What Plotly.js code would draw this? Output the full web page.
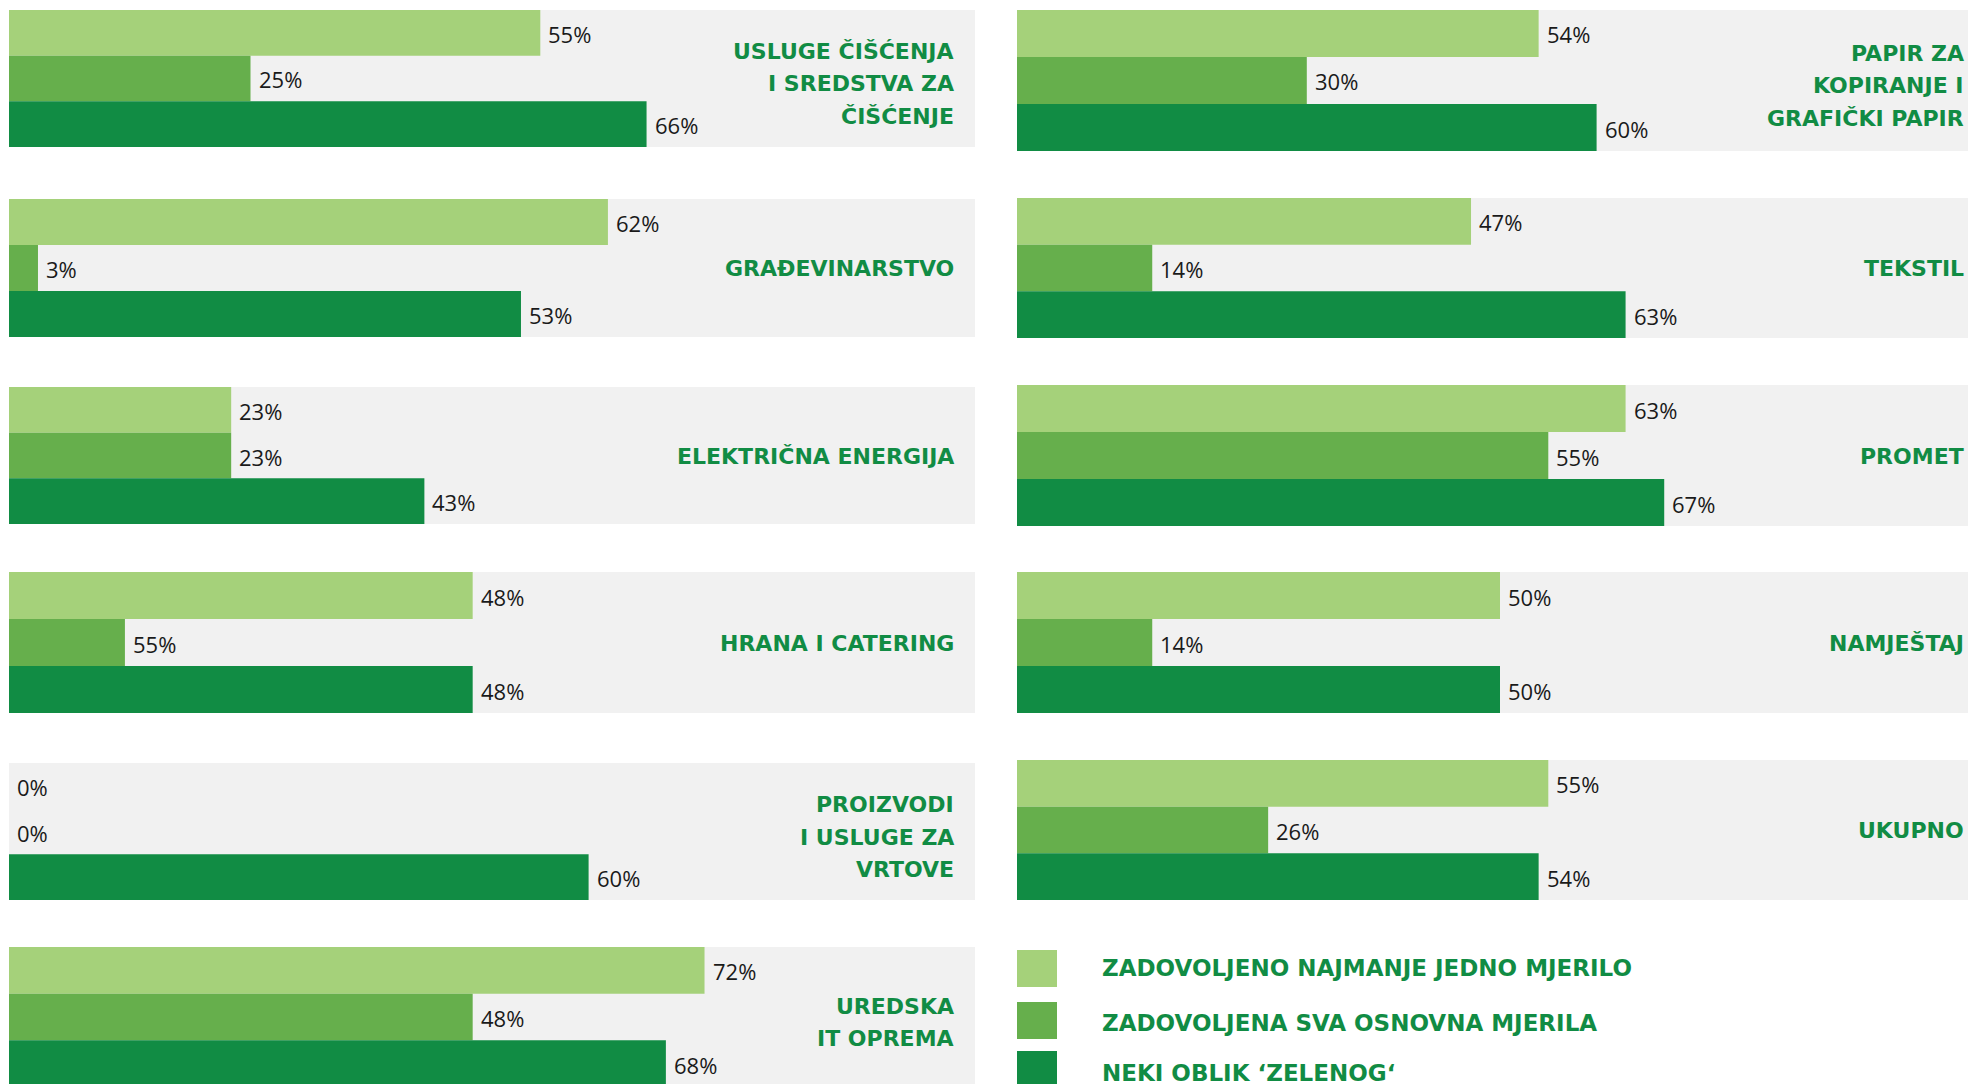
<!DOCTYPE html>
<html>
<head>
<meta charset="utf-8">
<script src="https://cdn.plot.ly/plotly-3.0.1.min.js"></script>
<style>
  html, body { margin: 0; padding: 0; background: #ffffff; }
  #chart { width: 1968px; height: 1084px; }
</style>
</head>
<body>
<div id="chart"></div>
<script>
// ---------------- DATA ----------------
const categories = [
  'USLUGE ČIŠĆENJA<br>I SREDSTVA ZA<br>ČIŠĆENJE',
  'GRAĐEVINARSTVO',
  'ELEKTRIČNA ENERGIJA',
  'HRANA I CATERING',
  'PROIZVODI<br>I USLUGE ZA<br>VRTOVE',
  'UREDSKA<br>IT OPREMA',
  'PAPIR ZA<br>KOPIRANJE I<br>GRAFIČKI PAPIR',
  'TEKSTIL',
  'PROMET',
  'NAMJEŠTAJ',
  'UKUPNO'
];
const seriesNames = [
  'ZADOVOLJENO NAJMANJE JEDNO MJERILO',
  'ZADOVOLJENA SVA OSNOVNA MJERILA',
  'NEKI OBLIK ‘ZELENOG‘'
];
// bar lengths (%)
const najmanjeJedno = [55, 62, 23, 48, 0, 72, 54, 47, 63, 50, 55];
const svaOsnovna    = [25, 3, 23, 12, 0, 48, 30, 14, 55, 14, 26];
const nekiOblik     = [66, 53, 43, 48, 60, 68, 60, 63, 67, 50, 54];
// printed value labels (as shown in the picture)
const labelsNajmanje = ['55%', '62%', '23%', '48%', '0%', '72%', '54%', '47%', '63%', '50%', '55%'];
const labelsSva      = ['25%', '3%', '23%', '55%', '0%', '48%', '30%', '14%', '55%', '14%', '26%'];
const labelsNeki     = ['66%', '53%', '43%', '48%', '60%', '68%', '60%', '63%', '67%', '50%', '54%'];

// ---------------- STYLE / LAYOUT ----------------
const colors = ['#a5d17a', '#66af4c', '#118c44'];
const labelGreen = '#118c44';
const W = 1968, H = 1084;

const leftCol  = { x0: 9, x1: 975, pxPerPct: 9.66, tops: [10, 199, 387, 572, 763, 947], bottoms: [147, 337, 524, 713, 900, 1087], labelShift: -19 };
const rightCol = { x0: 1017, x1: 1968, pxPerPct: 9.66, tops: [10, 198, 385, 572, 760], bottoms: [151, 338, 526, 713, 900], labelShift: -2 };

const valueFont = { family: 'Open Sans, sans-serif', size: 22, color: '#1a1a1a' };
const catFont = { family: 'DejaVu Sans, sans-serif', size: 22, color: labelGreen, weight: 700 };
const legFont = { family: 'DejaVu Sans, sans-serif', size: 23, color: labelGreen, weight: 700 };

const seriesValues = [najmanjeJedno, svaOsnovna, nekiOblik];
const seriesLabels = [labelsNajmanje, labelsSva, labelsNeki];

const traces = [];
const layout = {
  width: W, height: H,
  margin: { l: 0, r: 0, t: 0, b: 0, pad: 0 },
  paper_bgcolor: '#ffffff',
  plot_bgcolor: '#f1f1f1',
  showlegend: false,
  barmode: 'overlay',
  annotations: [],
  shapes: []
};

categories.forEach((cat, i) => {
  const isLeft = i < 6;
  const col = isLeft ? leftCol : rightCol;
  const k = isLeft ? i : i - 6;
  const n = i + 1;
  const xa = 'x' + (n === 1 ? '' : n);
  const ya = 'y' + (n === 1 ? '' : n);
  const top = col.tops[k];
  const bottom = col.bottoms[k];
  const visBottom = Math.min(bottom, H);
  const yLow = 2.5 - 3 * (visBottom - top) / (bottom - top);
  const xMax = (col.x1 - col.x0) / col.pxPerPct;

  layout['xaxis' + (n === 1 ? '' : n)] = {
    domain: [col.x0 / W, col.x1 / W], range: [0, xMax], anchor: ya,
    showgrid: false, zeroline: false, showticklabels: false, showline: false, ticks: '', fixedrange: true
  };
  layout['yaxis' + (n === 1 ? '' : n)] = {
    domain: [1 - visBottom / H, 1 - top / H], range: [yLow, 2.5], anchor: xa,
    showgrid: false, zeroline: false, showticklabels: false, showline: false, ticks: '', fixedrange: true
  };

  const vals = seriesValues.map(s => s[i]);
  traces.push({
    type: 'bar', orientation: 'h',
    x: vals, y: [2, 1, 0], width: [1, 1, 1],
    marker: { color: colors, line: { width: 0 } },
    xaxis: xa, yaxis: ya, hoverinfo: 'none', textposition: 'none'
  });

  // value labels
  seriesLabels.forEach((labs, s) => {
    layout.annotations.push({
      xref: xa, yref: ya, x: seriesValues[s][i], y: 2 - s,
      text: labs[i], showarrow: false, xanchor: 'left', yanchor: 'middle',
      xshift: 6, yshift: -1, font: valueFont
    });
  });

  // category label lines, centred on the full (unclipped) panel
  const lines = cat.split('<br>');
  const pitch = 32.5;
  const extra = lines.length > 1 ? -5.5 : -0.5;
  const yCentreDomain = ((top + bottom) / 2 - visBottom) / (top - visBottom);
  lines.forEach((ln, j) => {
    layout.annotations.push({
      xref: xa + ' domain', yref: ya + ' domain', x: 1, y: yCentreDomain,
      text: ln, showarrow: false, xanchor: 'right', yanchor: 'middle',
      xshift: col.labelShift, yshift: ((lines.length - 1) / 2 - j) * pitch + extra,
      font: catFont
    });
  });
});

// legend (built from series names and colours)
const legSquareTops = [950, 1002, 1051];
const legTextCenters = [968, 1023, 1073];
seriesNames.forEach((name, s) => {
  layout.shapes.push({
    type: 'rect', xref: 'paper', yref: 'paper',
    x0: 1017 / W, x1: 1057 / W,
    y0: 1 - Math.min(legSquareTops[s] + 37, H) / H, y1: 1 - legSquareTops[s] / H,
    fillcolor: colors[s], line: { width: 0 }, layer: 'above'
  });
  layout.annotations.push({
    xref: 'paper', yref: 'paper', x: 1100 / W, y: 1 - legTextCenters[s] / H,
    text: name, showarrow: false, xanchor: 'left', yanchor: 'middle',
    font: legFont
  });
});

Plotly.newPlot('chart', traces, layout, { displayModeBar: false, staticPlot: true });
</script>
</body>
</html>
